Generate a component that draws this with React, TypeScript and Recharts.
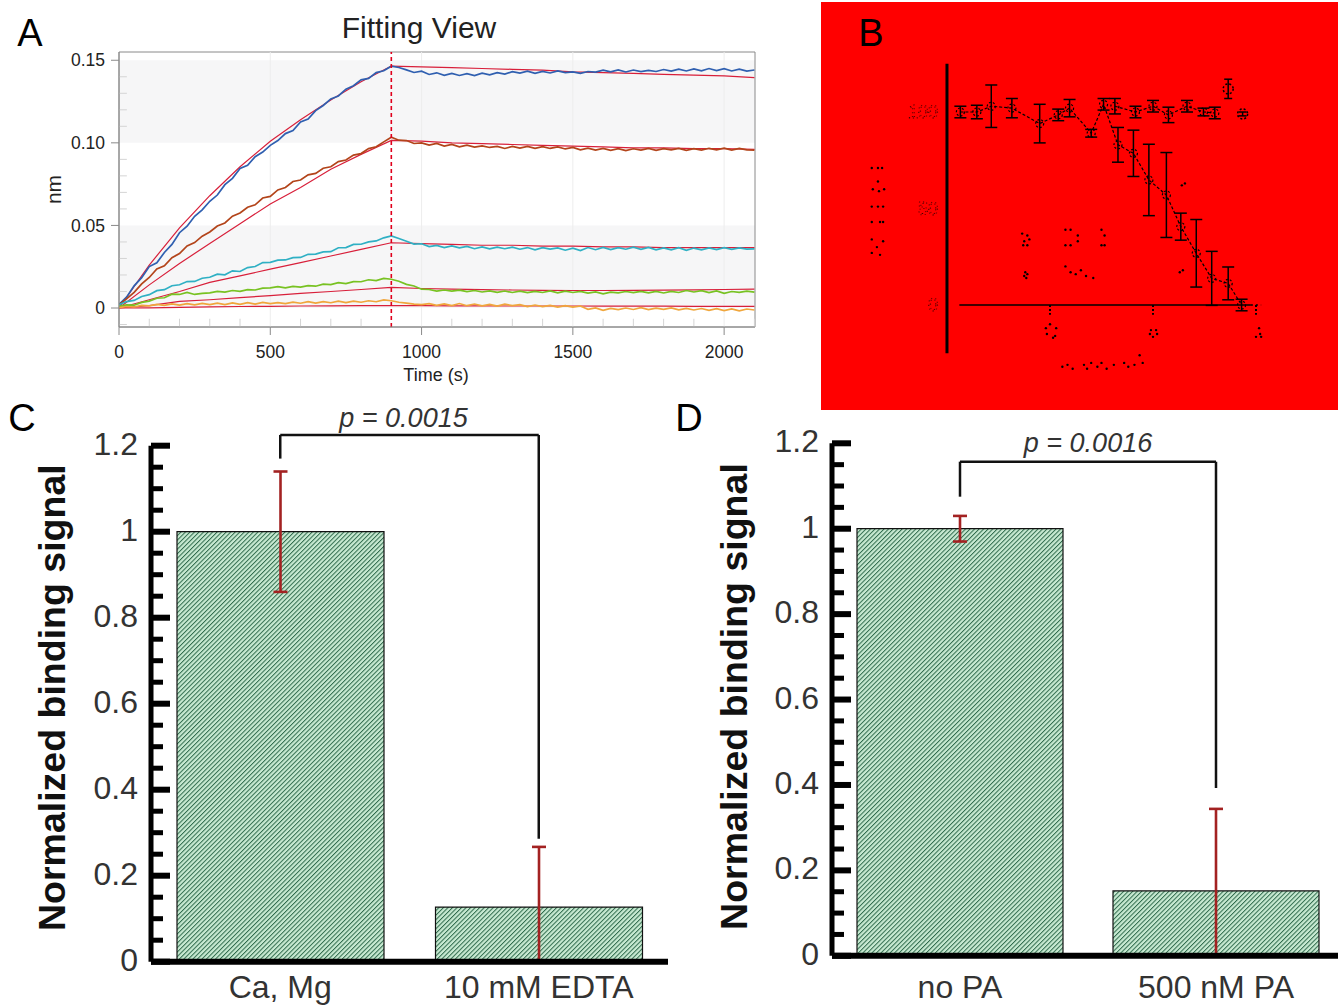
import {
  ComposedChart, Line, Bar, Scatter, XAxis, YAxis, ErrorBar, ReferenceLine, ReferenceArea, ReferenceDot,
} from 'recharts'

const FONT = '"Liberation Sans", Arial, sans-serif'

// Panel A: sensor traces, in thousandths of a nm, one reading every 25 s
const traceTimes = [
  0, 25, 50, 75, 100, 125, 150, 175, 200, 225, 250, 275,
  300, 325, 350, 375, 400, 425, 450, 475, 500, 525, 550, 575,
  600, 625, 650, 675, 700, 725, 750, 775, 800, 825, 850, 875,
  900, 925, 950, 975, 1000, 1025, 1050, 1075, 1100, 1125, 1150, 1175,
  1200, 1225, 1250, 1275, 1300, 1325, 1350, 1375, 1400, 1425, 1450, 1475,
  1500, 1525, 1550, 1575, 1600, 1625, 1650, 1675, 1700, 1725, 1750, 1775,
  1800, 1825, 1850, 1875, 1900, 1925, 1950, 1975, 2000, 2025, 2050, 2075,
  2100,
]
const traceBlue = [
  2.1, 6.6, 13.4, 18.4, 25.1, 27.4, 33.6, 38.5, 45.6, 49.5, 55.5, 59.4,
  64.6, 68.4, 74.7, 78.5, 84.5, 86.4, 91.6, 94.4, 98.5, 101.4, 105.6, 107.5,
  112.6, 114.4, 119.5, 122.6, 126.6, 128.4, 132.5, 134.6, 138.1, 139, 142.5, 143.6,
  146.4, 145.6, 144.2, 142.6, 143.4, 141.4, 142.4, 140.9, 142, 140.8, 141.9, 140.7,
  142.2, 141.2, 142.5, 141.6, 143.1, 142.2, 143.4, 142.1, 143.3, 142.3, 143.6, 142.5,
  143, 142.1, 143.2, 142.8, 144, 143, 144.2, 142.9, 144.1, 143.1, 143.9, 143.2,
  144.4, 143.4, 144.6, 143.5, 144.8, 143.6, 145, 143.7, 144.9, 143.5, 144.6, 143.4,
  144.1,
]
const traceBrown = [
  2, 5.5, 9.5, 14.6, 18.5, 23.6, 25.5, 30.5, 33, 37.6, 39.6, 43.5,
  46, 49.6, 51.5, 55.6, 57.5, 61, 62.5, 66.6, 67.6, 71.5, 73, 76.6,
  77.5, 80.6, 81.5, 84.6, 85.5, 88.6, 89.6, 92.6, 93.5, 96.5, 97.6, 100.6,
  103.4, 101.6, 101.4, 99.6, 100, 98.6, 99.6, 98, 99, 97.6, 98.6, 97.4,
  98.2, 97.2, 97.9, 96.6, 97.8, 96.8, 97.9, 96.7, 97.7, 96.6, 97.5, 96.3,
  97.2, 95.8, 96.8, 95.6, 96.6, 95.4, 96.5, 95.3, 96.4, 95.6, 96.6, 95.5,
  96.5, 95.8, 96.6, 95.5, 96.5, 95.6, 96.7, 95.8, 96.8, 95.6, 96.6, 95.7,
  95.6,
]
const traceTeal = [
  2, 3.9, 4.6, 7, 8.1, 10.5, 11.1, 13.5, 14.1, 16, 16.1, 18,
  18.6, 20.5, 20.1, 22.5, 22.1, 24.5, 25.1, 27.5, 27.6, 29, 29.1, 30.5,
  30.6, 32.5, 32.6, 34, 34.1, 36.5, 36.6, 38.5, 38.6, 40, 40.6, 42.5,
  43.6, 42.1, 40.4, 38.7, 38.9, 37.2, 37.9, 36.6, 37.6, 36.4, 37.3, 35.9,
  37, 35.8, 36.9, 35.9, 36.8, 35.6, 36.6, 35.2, 36.5, 35.6, 36.4, 35,
  36.2, 34.8, 36.6, 35.3, 36.7, 35.4, 36.6, 35.6, 36.8, 35.5, 36.7, 35.2,
  36.4, 35.2, 36.5, 34.9, 36.3, 35.2, 36.4, 35.4, 36.5, 35.5, 36.4, 35.6,
  35.8,
]
const traceGreen = [
  1, 1.9, 1.7, 3.4, 4.2, 5.9, 6.2, 8.4, 8.2, 9.4, 8.2, 8.9,
  9.2, 10.1, 9.6, 10.6, 10.1, 11.1, 10.9, 12, 12.2, 12.9, 12.2, 13.1,
  12.7, 13.6, 13.2, 14.4, 14.2, 15.4, 14.8, 16, 15.9, 17.1, 16.6, 17.9,
  17.4, 16.2, 14.3, 13.3, 11.4, 11.2, 10.2, 10.9, 10.2, 10.8, 9.9, 10.6,
  9.7, 10.4, 9.5, 10.3, 9.4, 10.2, 9.3, 10.1, 9.4, 10.3, 9.2, 10.2,
  9.4, 10.1, 9, 9.8, 8.6, 9.6, 9.2, 10, 9.3, 10.1, 9.2, 10,
  9.1, 10.1, 9.4, 10.6, 9.7, 10.5, 9.3, 10.4, 8.9, 10, 9.5, 10.2,
  9.6,
]
const traceOrange = [
  0.2, 0.9, 0.6, 1.6, 1.3, 2.2, 1.6, 2.5, 1.8, 2.7, 1.9, 2.8,
  2, 2.9, 2.1, 3.1, 2.2, 3.2, 2.4, 3.4, 2.6, 3.3, 2.7, 3.6,
  2.9, 3.8, 3, 3.9, 3.2, 4.1, 3.3, 4.2, 3.5, 4.4, 3.8, 4.9,
  4.4, 3.5, 3, 2.3, 2.1, 2.6, 1.6, 2.5, 1.5, 2.7, 1.4, 2.4,
  1.3, 2.2, 1.2, 2.3, 1.4, 2, 0.9, 1.8, 0.8, 1.6, 0.6, 1.4,
  0.5, 1.2, -0.8, 0.1, -1.4, -0.2, -1, 0, -0.9, 0.2, -1, -0.1,
  -0.8, 0.1, -1.1, -0.2, -1.2, -0.3, -1.4, -0.4, -1.6, -0.5, -1.7, -0.6,
  -1.2,
]

// Panel A: fitted curves, every 100 s
const fitTimes = [0, 100, 200, 300, 400, 500, 600, 700, 800, 900, 1000, 1100, 1200, 1300, 1400, 1500, 1600, 1700, 1800, 1900, 2000, 2100]
const fitBlue = [0, 26, 48.5, 68, 85.5, 101, 114, 126, 137, 146.5, 146, 145.5, 145, 144.5, 144, 143, 142.5, 142, 141.5, 141, 140.5, 139.5]
const fitBrown = [0, 14, 27, 39, 51, 63, 73, 84, 93, 101.5, 101, 100, 99.5, 99, 98.5, 98, 97.5, 97, 97, 96.5, 96.5, 96]
const fitTeal = [0, 5, 10, 15.5, 19.5, 23.5, 27.5, 31.5, 35.5, 39.5, 39, 38.5, 38, 38, 37.5, 37.5, 37, 37, 36.5, 36.5, 36.5, 36.5]
const fitGreen = [0, 1.5, 4, 5, 6.3, 7.5, 8.8, 10, 11.2, 12.5, 11.8, 11.4, 11.1, 10.9, 10.7, 10.6, 10.6, 10.7, 10.8, 11, 11.2, 11.4]
const fitOrange = [0, 0.1, 0.4, 0.7, 0.9, 1, 1.2, 1.3, 1.4, 1.5, 1.4, 1.3, 1.3, 1.2, 1.2, 1.2, 1.1, 1.1, 1.1, 1, 1, 1]

const nmTicks = [0, 0.05, 0.1, 0.15]
const nmMinor = [-0.01, 0.01, 0.02, 0.03, 0.04, 0.06, 0.07, 0.08, 0.09, 0.11, 0.12, 0.13, 0.14]
const timeTicks = [0, 500, 1000, 1500, 2000]
const timeMinor = [100, 200, 300, 400, 600, 700, 800, 1100, 1200, 1300, 1400, 1600, 1700, 1800, 1900, 2100]

// Panel B: what survives of the dose-response plot
const fallX = [0.13, 0.29, 0.43, 0.63, 0.9, 1.08, 1.19, 1.4, 1.52, 1.66, 1.81, 1.96, 2.13, 2.27, 2.42, 2.57, 2.73, 2.86]
const fallY = [1, 1, 1.03, 1.02, 0.94, 0.985, 1.02, 0.89, 1.04, 0.83, 0.786, 0.648, 0.57, 0.406, 0.268, 0.138, 0.112, 0]
const fallErr = [0.03, 0.035, 0.11, 0.05, 0.1, 0.03, 0.045, 0.02, 0.03, 0.09, 0.12, 0.185, 0.22, 0.07, 0.175, 0.14, 0.085, 0.03]
const flatX = [1.63, 1.83, 2, 2.15, 2.33, 2.49, 2.6]
const flatY = [1.03, 1, 1.03, 0.985, 1.03, 1, 0.995]
const flatErr = [0.04, 0.03, 0.03, 0.04, 0.03, 0.02, 0.03]
const outlierX = [2.73, 2.87]
const outlierY = [1.12, 0.99]
const outlierErr = [0.05, 0.01]
const speckX = [
  -0.73, -0.67, -0.63, -0.67, -0.72, -0.66, -0.61, -0.73, -0.67, -0.62, -0.73, -0.65, -0.62, -0.73, -0.68, -0.62, -0.73, -0.65,
  0.96, 1, 1.06, 0.97, 1.05, 1.03, 1.98, 2.03, 1.97, 2.04, 2, 3.03, 3.04, 3.05, 3,
  1.12, 1.17, 1.22, 1.33, 1.36, 1.4, 1.46, 1.5, 1.55, 1.62, 1.72, 1.76, 1.82, 1.87, 1.9,
  0.73, 0.75, 0.78, 0.8, 0.74, 0.78, 1.15, 1.2, 1.15, 1.2, 1.27, 1.27, 1.5, 1.53, 1.5, 1.53,
  0.76, 0.77, 0.78, 0.75, 1.15, 1.2, 1.25, 1.3, 1.35, 1.42, 2.28, 2.31, 2.26, 2.29,
]
const speckY = [
  0.71, 0.71, 0.71, 0.64, 0.6, 0.59, 0.6, 0.51, 0.51, 0.51, 0.43, 0.43, 0.43, 0.34, 0.3, 0.33, 0.27, 0.26,
  -0.12, -0.1, -0.12, -0.15, -0.16, -0.17, -0.13, -0.13, -0.15, -0.15, -0.165, -0.12, -0.15, -0.165, -0.165,
  -0.32, -0.31, -0.33, -0.31, -0.33, -0.3, -0.32, -0.3, -0.33, -0.31, -0.3, -0.32, -0.31, -0.26, -0.3,
  0.37, 0.33, 0.36, 0.34, 0.31, 0.31, 0.39, 0.39, 0.31, 0.31, 0.36, 0.33, 0.39, 0.36, 0.31, 0.31,
  0.17, 0.14, 0.16, 0.15, 0.2, 0.17, 0.16, 0.18, 0.15, 0.14, 0.62, 0.63, 0.17, 0.18,
]
const bTickValues = [0, 0.5, 1]
const bTickLabels = ['0', '50', '100']
const bXTicks = [1, 2, 3]

// Panels C and D
const catsC = ['Ca, Mg', '10 mM EDTA']
const valsC = [1, 0.127]
const errC = [[0.14, 0.14], [0.127, 0.14]]
const catsD = ['no PA', '500 nM PA']
const valsD = [1, 0.152]
const errD = [[0.03, 0.03], [0.152, 0.192]]
const signalTicks = [
  0, 0.05, 0.1, 0.15, 0.2, 0.25, 0.3, 0.35, 0.4, 0.45, 0.5, 0.55, 0.6,
  0.65, 0.7, 0.75, 0.8, 0.85, 0.9, 0.95, 1, 1.05, 1.1, 1.15, 1.2,
]

const traces = traceTimes.map((t, i) => ({
  t,
  blue: traceBlue[i] / 1000,
  brown: traceBrown[i] / 1000,
  teal: traceTeal[i] / 1000,
  green: traceGreen[i] / 1000,
  orange: traceOrange[i] / 1000,
}))
const fitLines = [fitBlue, fitBrown, fitTeal, fitGreen, fitOrange].map((vals) =>
  fitTimes.map((t, i) => ({ t, v: vals[i] / 1000 }))
)
const TRACE_COLORS: Record<string, string> = {
  blue: '#2f5fb0',
  brown: '#b3441a',
  teal: '#2fb0c4',
  green: '#78c222',
  orange: '#f0a63c',
}

function toRows(xs: number[], ys: number[], errs?: number[]) {
  return xs.map((x, i) => ({ x, y: ys[i], err: errs ? errs[i] : 0 }))
}

function PanelLetter({ text, x, y }: { text: string; x: number; y: number }) {
  return (
    <div style={{ position: 'absolute', left: x - 30, top: y - 25, width: 60, height: 50, lineHeight: '50px', textAlign: 'center', fontSize: 38, color: '#000' }}>
      {text}
    </div>
  )
}

function FittingView() {
  return (
    <div style={{ position: 'absolute', left: 0, top: 0 }}>
      <ComposedChart width={780} height={400} data={traces} margin={{ top: 52, right: 25, bottom: 0, left: 0 }}>
        <XAxis
          dataKey="t" type="number" domain={[0, 2102]} ticks={timeTicks} allowDataOverflow
          height={73} tickSize={8} tickMargin={11} stroke="#8a8a8a"
          tick={{ fill: '#222', fontSize: 17.5, fontFamily: FONT }}
          label={{ value: 'Time (s)', position: 'insideBottom', offset: 17, fill: '#222', fontSize: 18, dx: -1, dy: -2, fontFamily: FONT }}
        />
        <YAxis
          type="number" domain={[-0.0115, 0.155]} ticks={nmTicks} allowDataOverflow
          width={119} tickSize={8} tickMargin={6} stroke="#8a8a8a"
          tickFormatter={(v: number) => (v === 0 ? '0' : v.toFixed(2))}
          tick={{ fill: '#222', fontSize: 17.5, fontFamily: FONT }}
          label={{ value: 'nm', angle: -90, position: 'insideLeft', offset: 54, fill: '#222', fontSize: 21, dy: 0, style: { textAnchor: 'middle' }, fontFamily: FONT }}
        />
        <ReferenceArea x1={0} x2={2102} y1={0.1} y2={0.15} fill="#f6f6f7" fillOpacity={1} stroke="none" />
        <ReferenceArea x1={0} x2={2102} y1={0} y2={0.05} fill="#f6f6f7" fillOpacity={1} stroke="none" />
        {timeTicks.slice(1).map((t) => (
          <ReferenceLine key={t} x={t} stroke="#ededed" strokeWidth={1} />
        ))}
        {nmMinor.map((v) => (
          <ReferenceLine key={v} segment={[{ x: 0, y: v }, { x: 26, y: v }]} stroke="#d4d4d4" strokeWidth={1} />
        ))}
        {timeMinor.map((t) => (
          <ReferenceLine key={t} segment={[{ x: t, y: -0.0115 }, { x: t, y: -0.0065 }]} stroke="#d4d4d4" strokeWidth={1} />
        ))}
        {fitLines.map((rows, i) => (
          <Line key={i} data={rows} dataKey="v" stroke="#d81f3a" strokeWidth={1.2} dot={false} isAnimationActive={false} />
        ))}
        {Object.keys(TRACE_COLORS).map((k) => (
          <Line key={k} dataKey={k} stroke={TRACE_COLORS[k]} strokeWidth={1.7} dot={false} isAnimationActive={false} />
        ))}
        <ReferenceLine x={900} stroke="#e0001c" strokeWidth={1.6} strokeDasharray="4 3" />
        <ReferenceArea x1={0} x2={2102} y1={-0.0115} y2={0.155} fill="none" stroke="#8a8a8a" strokeWidth={1} />
      </ComposedChart>
      <div style={{ position: 'absolute', left: 269, top: 10, width: 300, textAlign: 'center', fontSize: 30, lineHeight: '36px', color: '#222' }}>
        Fitting View
      </div>
    </div>
  )
}

function DoseResponse() {
  return (
    <div style={{ position: 'absolute', left: 821, top: 2, width: 517, height: 408, background: '#ff0000' }}>
      <ComposedChart width={517} height={408} margin={{ top: 0, right: 0, bottom: 0, left: 0 }}>
        <XAxis type="number" dataKey="x" domain={[-1.223, 3.796]} allowDataOverflow hide />
        <YAxis type="number" dataKey="y" domain={[-0.544, 1.57]} allowDataOverflow hide />
        <ReferenceLine segment={[{ x: 0, y: -0.25 }, { x: 0, y: 1.25 }]} stroke="#000" strokeWidth={3} />
        <ReferenceLine segment={[{ x: 0.12, y: 0 }, { x: 2.95, y: 0 }]} stroke="#000" strokeWidth={1.5} />
        <ReferenceLine segment={[{ x: 2.95, y: 0 }, { x: 3.05, y: 0 }]} stroke="#000" strokeWidth={1.5} strokeDasharray="2 3" />
        {bXTicks.map((v) => (
          <ReferenceLine key={v} segment={[{ x: v, y: 0 }, { x: v, y: -0.05 }]} stroke="#000" strokeWidth={2} strokeDasharray="2 2" />
        ))}
        {bTickValues.map((v, i) => (
          <ReferenceDot
            key={v} x={-0.03} y={v} r={0} fill="none" stroke="none"
            label={{
              value: bTickLabels[i], position: 'left', offset: 6, fontSize: 18, fontFamily: FONT,
              fill: 'none', stroke: '#000', strokeWidth: 0.8, strokeDasharray: '1 3',
            }}
          />
        ))}
        <Line
          data={toRows(fallX, fallY, fallErr)} dataKey="y" stroke="#000" strokeWidth={1.2} strokeDasharray="3 2"
          dot={{ r: 4, fill: 'none', stroke: '#000', strokeWidth: 1.2, strokeDasharray: '2 2' }} isAnimationActive={false}
        >
          <ErrorBar dataKey="err" direction="y" width={6} stroke="#000" strokeWidth={1.5} isAnimationActive={false} />
        </Line>
        <Line
          data={toRows(flatX, flatY, flatErr)} dataKey="y" stroke="#000" strokeWidth={1.2} strokeDasharray="3 2"
          dot={{ r: 4, fill: 'none', stroke: '#000', strokeWidth: 1.2, strokeDasharray: '2 2' }} isAnimationActive={false}
        >
          <ErrorBar dataKey="err" direction="y" width={6} stroke="#000" strokeWidth={1.5} isAnimationActive={false} />
        </Line>
        <Line
          data={toRows(outlierX, outlierY, outlierErr)} dataKey="y" stroke="none"
          dot={{ r: 5, fill: 'none', stroke: '#000', strokeWidth: 1.5, strokeDasharray: '2 2' }} isAnimationActive={false}
        >
          <ErrorBar dataKey="err" direction="y" width={4} stroke="#000" strokeWidth={1.5} isAnimationActive={false} />
        </Line>
        <Scatter
          data={toRows(speckX, speckY)} dataKey="y" fill="#000" isAnimationActive={false}
          shape={(p: any) => <circle cx={p.cx} cy={p.cy} r={1.2} fill="#000" />}
        />
      </ComposedChart>
    </div>
  )
}

function SignalTick({ x, y, payload }: any) {
  const major = Math.abs(payload.value * 5 - Math.round(payload.value * 5)) < 1e-6
  return (
    <g>
      <rect x={x} y={y - (major ? 3 : 2.5)} width={major ? 19 : 12} height={major ? 6 : 5} fill="#000" />
      {major && (
        <text x={x - 13} y={y - 2} textAnchor="end" dominantBaseline="central" fontSize={32} fontFamily={FONT} fill="#333">
          {String(payload.value)}
        </text>
      )}
    </g>
  )
}

const hatchId = (name: string) => `hatch-${name}`

interface SignalPanelProps {
  name: string
  left: number
  width: number
  marginTop: number
  axisHeight: number
  yAxisWidth: number
  cats: string[]
  vals: number[]
  errs: number[][]
  bracketY: number
  dropLeft: number
  dropRight: number
  pText: string
  pOffset: number
  pShift: number
  barSize: number
  labelShift: number
  tickGap: number
}

function SignalPanel(p: SignalPanelProps) {
  const rows = p.cats.map((cat, i) => ({ cat, val: p.vals[i], err: p.errs[i] }))
  return (
    <div style={{ position: 'absolute', left: p.left, top: 400 }}>
      <ComposedChart width={p.width} height={605} data={rows} margin={{ top: p.marginTop, right: 0, bottom: 0, left: 0 }}>
        <defs>
          <pattern id={hatchId(p.name)} width={3.2} height={3.2} patternUnits="userSpaceOnUse" patternTransform="rotate(-45)">
            <rect width={3.2} height={3.2} fill="#c8ead2" />
            <rect width={3.2} height={1} fill="#2f6a4c" />
          </pattern>
        </defs>
        <XAxis
          dataKey="cat" height={p.axisHeight} tickLine={false} tickMargin={p.tickGap}
          axisLine={{ stroke: '#000', strokeWidth: 6 }}
          tick={{ fill: '#333', fontSize: 32, fontFamily: FONT }} interval={0}
        />
        <YAxis
          type="number" domain={[0, 1.2]} ticks={signalTicks} interval={0} allowDataOverflow
          width={p.yAxisWidth} tickLine={false} tickSize={0} tickMargin={0}
          axisLine={{ stroke: '#000', strokeWidth: 5 }} tick={SignalTick}
          label={{
            value: 'Normalized binding signal', angle: -90, position: 'insideLeft', offset: 52,
            dy: p.labelShift, fontSize: 37.5, fontWeight: 700, fill: '#111', fontFamily: FONT,
            style: { textAnchor: 'middle' },
          }}
        />
        <Bar dataKey="val" barSize={p.barSize} fill={`url(#${hatchId(p.name)})`} stroke="#111" strokeWidth={1.2} isAnimationActive={false}>
          <ErrorBar dataKey="err" direction="y" width={7} stroke="#a32222" strokeWidth={2.6} isAnimationActive={false} />
        </Bar>
        <ReferenceLine
          ifOverflow="visible" stroke="#111" strokeWidth={2.5}
          segment={[{ x: p.cats[0], y: p.bracketY }, { x: p.cats[1], y: p.bracketY }]}
          label={{
            value: p.pText, position: 'top', offset: p.pOffset, dx: p.pShift, fontSize: 27, fontStyle: 'italic',
            fill: '#333', fontFamily: FONT,
          }}
        />
        <ReferenceLine ifOverflow="visible" stroke="#111" strokeWidth={2.5} segment={[{ x: p.cats[0], y: p.bracketY }, { x: p.cats[0], y: p.dropLeft }]} />
        <ReferenceLine ifOverflow="visible" stroke="#111" strokeWidth={2.5} segment={[{ x: p.cats[1], y: p.bracketY }, { x: p.cats[1], y: p.dropRight }]} />
      </ComposedChart>
    </div>
  )
}

export default function App() {
  return (
    <div style={{ position: 'absolute', left: 0, top: 0, width: 1338, height: 1005, overflow: 'hidden', background: '#fff', fontFamily: FONT }}>
      <FittingView />
      <DoseResponse />
      <SignalPanel
        name="c" left={0} width={668} marginTop={45.7} axisHeight={43.3} yAxisWidth={151} cats={catsC} vals={valsC} errs={errC}
        bracketY={1.225} dropLeft={1.17} dropRight={0.286} pText="p = 0.0015" pOffset={8} pShift={-6} barSize={207} labelShift={-6} tickGap={8}
      />
      <SignalPanel
        name="d" left={682} width={662} marginTop={43.3} axisHeight={49.2} yAxisWidth={150} cats={catsD} vals={valsD} errs={errD}
        bracketY={1.157} dropLeft={1.075} dropRight={0.393} pText="p = 0.0016" pOffset={10} pShift={0} barSize={206} labelShift={-3} tickGap={13}
      />
      <PanelLetter text="A" x={30} y={33} />
      <PanelLetter text="B" x={871} y={33} />
      <PanelLetter text="C" x={22} y={418} />
      <PanelLetter text="D" x={689} y={418} />
    </div>
  )
}
